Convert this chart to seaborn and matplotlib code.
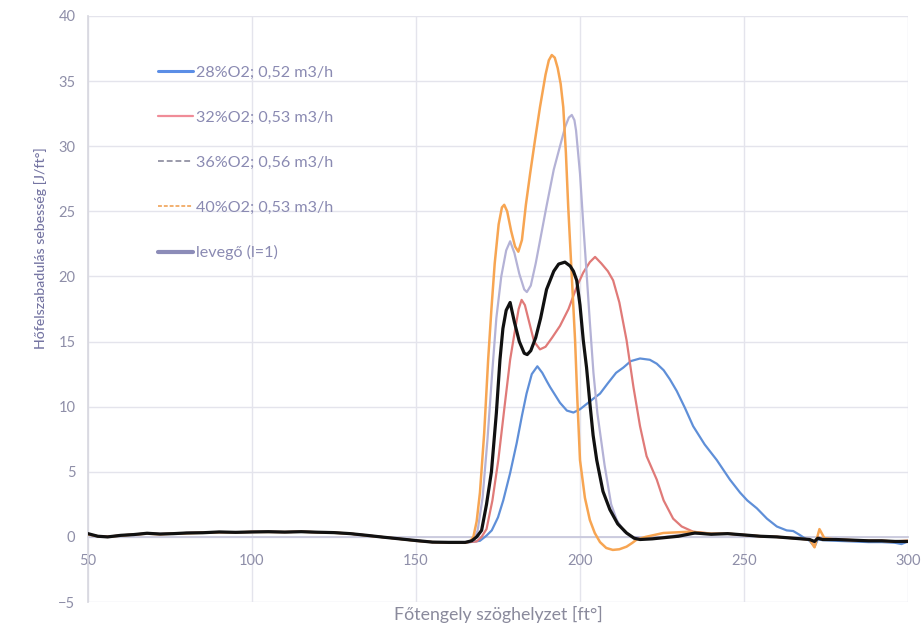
import matplotlib
matplotlib.use("Agg")
import matplotlib.pyplot as plt
from matplotlib.lines import Line2D
import seaborn as sns
import pandas as pd

# ---------------- data ----------------
angle_28 = [50, 53, 56, 60, 64, 68, 72, 76, 80, 85, 90, 95, 100, 105, 110, 115, 120, 125, 130, 135, 140, 145, 150, 155, 160, 165,
            169.5, 171.5, 173.1, 175, 176.6, 178.7, 180.7, 182.3, 183.7, 185.3, 187, 188.5, 190, 190.9, 193.9, 196, 198, 200, 202,
            204, 206.1, 208.5, 211, 213.2, 215.5, 218.3, 221.3, 223.4, 225.5, 227.4, 229.5, 232, 234.5, 238, 241.7, 245.7, 248.8,
            251, 253.9, 257, 260, 263, 265, 267, 268.5, 270, 271.5, 272.5, 274, 278, 283, 288, 292, 296, 298, 300]
rate_28 = [0.2, 0.05, 0.0, 0.1, 0.18, 0.25, 0.22, 0.25, 0.3, 0.32, 0.36, 0.35, 0.38, 0.38, 0.37, 0.4, 0.35, 0.32, 0.25, 0.1, -0.02, -0.15, -0.3, -0.4, -0.42, -0.45,
           -0.3, 0.1, 0.5, 1.5, 2.8, 4.9, 7.2, 9.3, 11.0, 12.5, 13.1, 12.6, 11.9, 11.5, 10.3, 9.7, 9.55, 9.8, 10.2,
           10.6, 11.0, 11.8, 12.6, 13.0, 13.5, 13.7, 13.6, 13.3, 12.8, 12.1, 11.2, 9.9, 8.5, 7.1, 5.9, 4.4, 3.4,
           2.8, 2.2, 1.4, 0.8, 0.5, 0.45, 0.15, -0.1, -0.3, -0.75, -0.2, -0.25, -0.3, -0.35, -0.4, -0.4, -0.45, -0.55, -0.35]

angle_32 = [50, 53, 56, 60, 64, 68, 72, 76, 80, 85, 90, 95, 100, 105, 110, 115, 120, 125, 130, 135, 140, 145, 150, 155, 160, 165,
            168.5, 170, 171.5, 173.3, 175.1, 177, 178.7, 180.2, 181.3, 182.2, 183.2, 184.5, 186, 187.8, 189.5, 191.5, 193.9, 196.5,
            199, 201, 203, 204.6, 206.5, 208.5, 210.1, 212, 214.2, 216.3, 218.3, 220.3, 223.4, 225.5, 228.4, 231, 234.5, 240,
            245, 250, 255, 260, 265, 270, 271.5, 272.5, 274, 278, 283, 288, 292, 296, 300]
rate_32 = [0.22, 0.05, 0.02, 0.12, 0.18, 0.26, 0.22, 0.25, 0.3, 0.33, 0.37, 0.35, 0.38, 0.39, 0.37, 0.4, 0.36, 0.33, 0.25, 0.12, -0.02, -0.15, -0.28, -0.4, -0.42, -0.42,
           -0.35, 0.0, 0.6, 2.8, 5.9, 10.0, 13.6, 15.9, 17.5, 18.2, 17.8, 16.5, 15.0, 14.4, 14.6, 15.3, 16.2, 17.5,
           19.2, 20.3, 21.1, 21.5, 21.0, 20.4, 19.7, 18.0, 15.1, 11.5, 8.5, 6.2, 4.4, 2.8, 1.4, 0.8, 0.4, 0.25,
           0.25, 0.15, 0.05, 0.0, -0.1, -0.2, -0.45, 0.0, -0.2, -0.2, -0.25, -0.3, -0.3, -0.35, -0.3]

angle_36 = [50, 53, 56, 60, 64, 68, 72, 76, 80, 85, 90, 95, 100, 105, 110, 115, 120, 125, 130, 135, 140, 145, 150, 155, 160, 165,
            167.5, 168.8, 170.3, 171.8, 173.2, 174.5, 176, 177.5, 178.7, 180, 181.5, 183, 183.8, 185, 186.5, 188, 189.8, 192,
            193.9, 195.5, 196.6, 197.5, 198.3, 198.8, 200, 201, 202, 203, 204.1, 205.3, 207.5, 209.5, 211.2, 213.5, 216, 220, 226, 232, 238,
            245, 250, 255, 260, 265, 270, 271.5, 272.5, 274, 278, 283, 288, 292, 296, 300]
rate_36 = [0.22, 0.05, 0.0, 0.12, 0.18, 0.27, 0.22, 0.25, 0.3, 0.32, 0.38, 0.35, 0.38, 0.4, 0.37, 0.4, 0.36, 0.33, 0.25, 0.12, -0.02, -0.15, -0.28, -0.4, -0.42, -0.42,
           -0.3, 0.5, 3.0, 7.5, 12.5, 16.8, 20.0, 22.0, 22.7, 21.8, 20.2, 19.0, 18.8, 19.3, 21.0, 23.0, 25.4, 28.2,
           30.0, 31.5, 32.2, 32.4, 32.0, 31.2, 27.9, 24.0, 20.3, 16.5, 12.6, 9.5, 5.5, 2.5, 1.3, 0.4, 0.0, -0.1, 0.0, 0.2, 0.3,
           0.25, 0.15, 0.05, 0.0, -0.1, -0.2, -0.45, 0.0, -0.2, -0.2, -0.25, -0.3, -0.3, -0.35, -0.3]

angle_40 = [50, 53, 56, 60, 64, 68, 72, 76, 80, 85, 90, 95, 100, 105, 110, 115, 120, 125, 130, 135, 140, 145, 150, 155, 160, 165,
            166.5, 167.5, 168.5, 169.5, 170.8, 172, 173, 174, 175.2, 176.2, 176.9, 177.8, 179, 180.2, 181.2, 182.3, 183.5, 184.8,
            186.3, 187.8, 189.5, 190.5, 191.4, 192.3, 193.2, 194.1, 194.9, 195.7, 196.4, 197.5, 198.5, 199.2, 200, 201.5, 203, 204.5,
            206.1, 208, 210, 212, 214.2, 216, 217.3, 220, 225.4, 233.5, 240, 245, 250, 255, 260, 265, 270, 271.5, 273, 274.5,
            278, 283, 288, 292, 296, 300]
rate_40 = [0.2, 0.05, 0.0, 0.1, 0.18, 0.25, 0.2, 0.25, 0.28, 0.32, 0.36, 0.35, 0.38, 0.38, 0.37, 0.4, 0.35, 0.32, 0.25, 0.1, -0.02, -0.15, -0.3, -0.4, -0.45, -0.45,
           -0.35, 0.0, 1.2, 3.4, 8.0, 13.6, 17.5, 21.0, 24.0, 25.3, 25.5, 25.0, 23.5, 22.3, 21.9, 22.8, 25.5, 27.9,
           30.5, 33.0, 35.5, 36.6, 37.0, 36.8, 36.0, 34.8, 33.0, 29.5, 25.4, 20.0, 15.1, 10.5, 5.9, 3.0, 1.3, 0.3,
           -0.4, -0.85, -1.0, -0.95, -0.75, -0.45, -0.2, 0.0, 0.3, 0.4, 0.25, 0.25, 0.15, 0.05, 0.0, -0.1, -0.2, -0.8, 0.6, -0.1,
           -0.2, -0.25, -0.3, -0.3, -0.35, -0.3]

angle_air = [50, 53, 56, 60, 64, 68, 72, 76, 80, 85, 90, 95, 100, 105, 110, 115, 120, 125, 130, 135, 140, 145, 150, 155, 160, 165,
             167, 168.5, 170, 171.5, 173, 174.5, 175.6, 176.5, 177.5, 178.7, 180, 181.5, 183, 183.9, 185, 186.5, 188, 189.8, 192,
             193.5, 195.4, 197, 198, 199, 200, 201, 202, 203, 204, 205.1, 207, 209.1, 211.5, 214.2, 216.5, 218.3, 222, 226, 230,
             235, 240, 245, 250, 255, 260, 265, 270, 271.5, 272.5, 274, 278, 283, 288, 292, 296, 300]
rate_air = [0.25, 0.05, 0.0, 0.12, 0.18, 0.28, 0.22, 0.25, 0.3, 0.32, 0.38, 0.35, 0.38, 0.4, 0.37, 0.4, 0.36, 0.33, 0.25, 0.12, -0.02, -0.15, -0.28, -0.4, -0.42, -0.42,
            -0.3, 0.0, 0.5, 2.5, 5.0, 9.5, 13.6, 16.0, 17.4, 18.0, 16.5, 15.0, 14.1, 14.0, 14.3, 15.3, 16.8, 19.0, 20.4,
            20.95, 21.1, 20.8, 20.4, 19.7, 17.8, 15.1, 13.0, 10.3, 7.8, 5.9, 3.5, 2.1, 1.0, 0.3, -0.1, -0.2, -0.15, -0.05, 0.05,
            0.3, 0.2, 0.25, 0.15, 0.05, 0.0, -0.1, -0.2, -0.35, -0.1, -0.2, -0.2, -0.25, -0.3, -0.3, -0.35, -0.35]

series_labels = ["28%O2; 0,52 m3/h", "32%O2; 0,53 m3/h", "36%O2; 0,56 m3/h", "40%O2; 0,53 m3/h", "levegő (l=1)"]
x_ticks = [50, 100, 150, 200, 250, 300]
y_ticks = [-5, 0, 5, 10, 15, 20, 25, 30, 35, 40]

# ---------------- plot ----------------
sns.set_theme(style="white")
plt.rcParams['font.family'] = ['Lato', 'DejaVu Sans']

fig = plt.figure(figsize=(9.24, 6.29), dpi=100)
ax = fig.add_axes([0.0952, 0.0429, 0.8875, 0.9317])

line_colors = ["#5f8fd8", "#e07a78", "#b4b2d6", "#f7a552", "#111111"]
line_widths = [1.6, 1.6, 1.6, 1.8, 2.3]
datasets = [(angle_28, rate_28), (angle_32, rate_32), (angle_36, rate_36), (angle_40, rate_40), (angle_air, rate_air)]
zorders = [3, 4, 5, 6, 7]

for (xs, ys), lab, col, lw, z in zip(datasets, series_labels, line_colors, line_widths, zorders):
    df = pd.DataFrame({"angle": xs, "rate": ys})
    sns.lineplot(data=df, x="angle", y="rate", ax=ax, color=col, linewidth=lw,
                 sort=False, estimator=None, zorder=z, legend=False)

ax.set_xlim(50, 300)
ax.set_ylim(-5, 40)
ax.set_xticks(x_ticks)
ax.set_yticks(y_ticks)

grid_col = "#e4e4ec"
ax.grid(True, color=grid_col, linewidth=1.0)
ax.set_axisbelow(True)
for s in ["top", "right"]:
    ax.spines[s].set_visible(False)
ax.spines["left"].set_color("#d8d8e0")
ax.spines["bottom"].set_position(("data", 0))
ax.spines["bottom"].set_color("#c8c8dc")
ax.spines["bottom"].set_zorder(1)

tick_col = "#8e8ea8"
ax.tick_params(axis="x", length=0, pad=12, labelsize=10.5, labelcolor=tick_col)
ax.tick_params(axis="y", length=0, pad=9, labelsize=10.5, labelcolor=tick_col)

ax.set_xlabel("Főtengely szöghelyzet [ft°]", fontsize=12.8, color="#8a8a9c")
ax.xaxis.set_label_coords(0.5, -0.022)
ax.xaxis.label.set_va("center")
ax.set_ylabel("Hőfelszabadulás sebesség [J/ft°]", fontsize=10.2, color="#7474a2",
              fontweight="medium")
ax.yaxis.set_label_coords(-0.058, 0.604)
ax.yaxis.label.set_va("center")

handles = [
    Line2D([], [], color="#5b8ee6", linewidth=2.2),
    Line2D([], [], color="#f08c98", linewidth=1.6),
    Line2D([], [], color="#9a9aaa", linewidth=1.4, linestyle=(0, (3, 1.5))),
    Line2D([], [], color="#f2b070", linewidth=1.4, linestyle=(0, (2, 1))),
    Line2D([], [], color="#8c8cb8", linewidth=3.0),
]
leg = ax.legend(handles, series_labels, loc="upper left", bbox_to_anchor=(0.0854, 0.915),
                frameon=False, fontsize=11.6, labelspacing=1.9, handlelength=2.17,
                handletextpad=0.2, borderpad=0, borderaxespad=0)
for t in leg.get_texts():
    t.set_color("#8a8ab2")

fig.savefig("out.png", dpi=100)
